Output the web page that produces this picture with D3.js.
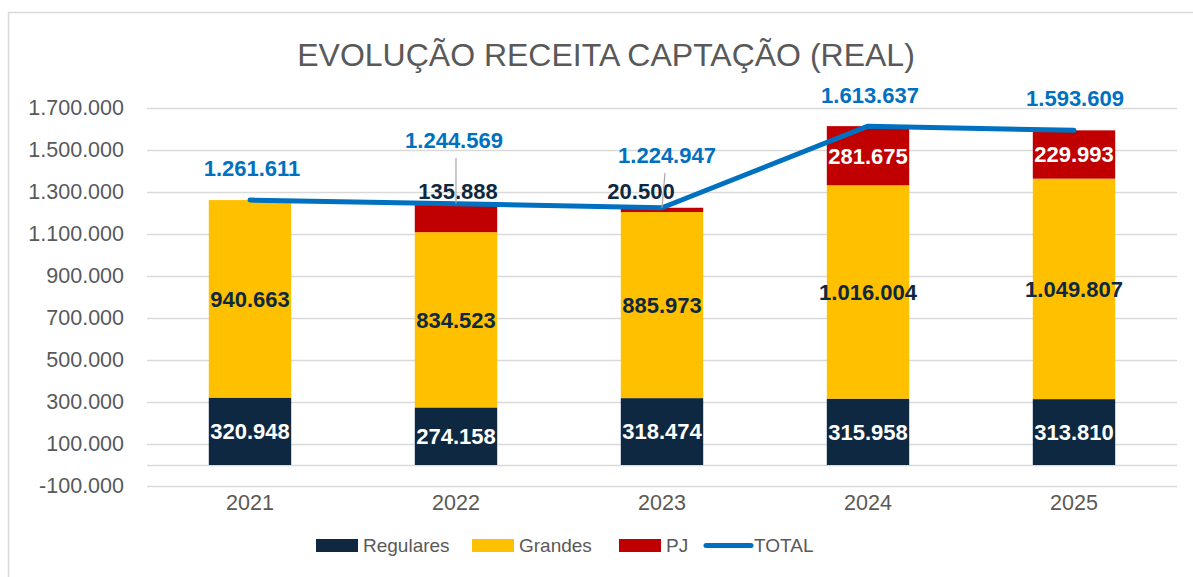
<!DOCTYPE html>
<html>
<head>
<meta charset="utf-8">
<script src="https://cdn.jsdelivr.net/npm/d3@7"></script>
<style>
  body { margin: 0; background: #fff; }
  svg { display: block; font-family: "Liberation Sans", Arial, sans-serif; }
</style>
</head>
<body>
<svg width="1193" height="577"></svg>
<script>
// Data
const years = ["2021", "2022", "2023", "2024", "2025"];
const regulares = [320948, 274158, 318474, 315958, 313810];
const grandes = [940663, 834523, 885973, 1016004, 1049807];
const pj = [0, 135888, 20500, 281675, 229993];
const total = [1261611, 1244569, 1224947, 1613637, 1593609];
const yTicks = [-100000, 100000, 300000, 500000, 700000, 900000, 1100000, 1300000, 1500000, 1700000];

const svg = d3.select("svg");

// number format like 1.234.567 (pt-BR style, plain hyphen for minus)
const locale = d3.formatLocale({ decimal: ",", thousands: ".", grouping: [3], currency: ["R$", ""], minus: "-" });
const fmt = locale.format(",");

const x = d3.scaleBand().domain(years).range([147, 1177]).paddingInner(0.6).paddingOuter(0.3);
const y = d3.scaleLinear().domain([-100000, 1700000]).range([486, 108]);
const cx = yr => x(yr) + x.bandwidth() / 2;

// chart border
svg.append("path")
  .attr("d", "M8.5,577 V12.5 H1193")
  .attr("fill", "none")
  .attr("stroke", "#d9d9d9")
  .attr("stroke-width", 1.5);

// title
svg.append("text")
  .attr("x", 606).attr("y", 66)
  .attr("text-anchor", "middle")
  .attr("font-size", 32)
  .attr("fill", "#595959")
  .text("EVOLUÇÃO RECEITA CAPTAÇÃO (REAL)");

// gridlines (plus zero line)
svg.append("g").selectAll("line")
  .data(yTicks.concat([0]))
  .join("line")
  .attr("x1", 147).attr("x2", 1177)
  .attr("y1", d => Math.round(y(d)) + 0.5).attr("y2", d => Math.round(y(d)) + 0.5)
  .attr("stroke", "#d9d9d9").attr("stroke-width", 1.5);

// y axis labels
const yAxis = svg.append("g")
  .attr("transform", "translate(140,0)")
  .call(d3.axisLeft(y).tickValues(yTicks).tickFormat(fmt).tickSize(0).tickPadding(16));
yAxis.select(".domain").remove();
yAxis.selectAll("text").attr("font-size", 21.5).attr("fill", "#595959").attr("font-family", "Liberation Sans, Arial, sans-serif");

// x axis labels
const xAxis = svg.append("g")
  .attr("transform", "translate(0,486)")
  .call(d3.axisBottom(x).tickSize(0).tickPadding(9));
xAxis.select(".domain").remove();
xAxis.selectAll("text").attr("font-size", 21.5).attr("fill", "#595959").attr("font-family", "Liberation Sans, Arial, sans-serif");

// stacked bars
const seriesList = [
  { name: "Regulares", color: "#0e2841" },
  { name: "Grandes", color: "#ffc000" },
  { name: "PJ", color: "#c00000" }
];
const rows = years.map((yr, i) => ({ year: yr, Regulares: regulares[i], Grandes: grandes[i], PJ: pj[i] }));
const stack = d3.stack().keys(seriesList.map(s => s.name))(rows);

const bars = svg.append("g");
stack.forEach((layer, k) => {
  bars.selectAll(null)
    .data(layer)
    .join("rect")
    .attr("x", d => x(d.data.year))
    .attr("width", x.bandwidth())
    .attr("y", d => y(d[1]))
    .attr("height", d => y(d[0]) - y(d[1]))
    .attr("fill", seriesList[k].color);
});

// total line
const line = d3.line()
  .x((d, i) => cx(years[i]))
  .y(d => y(d));
svg.append("path")
  .datum(total)
  .attr("d", line)
  .attr("fill", "none")
  .attr("stroke", "#0070c0")
  .attr("stroke-width", 5)
  .attr("stroke-linecap", "round")
  .attr("stroke-linejoin", "round");

const labels = svg.append("g").attr("font-weight", "bold").attr("font-size", 22).attr("text-anchor", "middle");

// Regulares labels (white, centered)
labels.selectAll(null)
  .data(stack[0])
  .join("text")
  .attr("x", d => cx(d.data.year))
  .attr("y", d => (y(d[0]) + y(d[1])) / 2)
  .attr("dy", "0.36em")
  .attr("fill", "#ffffff")
  .text(d => fmt(d[1] - d[0]));

// Grandes labels (dark, centered)
labels.selectAll(null)
  .data(stack[1])
  .join("text")
  .attr("x", d => cx(d.data.year))
  .attr("y", d => (y(d[0]) + y(d[1])) / 2)
  .attr("dy", "0.36em")
  .attr("fill", "#0e2841")
  .text(d => fmt(d[1] - d[0]));

// PJ labels: big segments inside in white, small ones moved above in dark
const pjOffsets = { "2022": { dx: 2, y: 191 }, "2023": { dx: -21, y: 191 } };
labels.selectAll(null)
  .data(stack[2].filter(d => d[1] - d[0] > 0))
  .join("text")
  .attr("x", d => cx(d.data.year) + (pjOffsets[d.data.year] ? pjOffsets[d.data.year].dx : 0))
  .attr("y", d => pjOffsets[d.data.year] ? pjOffsets[d.data.year].y : (y(d[0]) + y(d[1])) / 2)
  .attr("dy", "0.36em")
  .attr("fill", d => pjOffsets[d.data.year] ? "#0e2841" : "#ffffff")
  .text(d => fmt(d[1] - d[0]));

// Total labels (blue), two moved up with leader lines
const totalRows = years.map((yr, i) => ({ year: yr, value: total[i] }));
const totalOffsets = { "2021": { dx: 2, dy: -32 }, "2022": { dx: -2, dy: -64 }, "2023": { dx: 5, dy: -53 }, "2024": { dx: 2, dy: -31 }, "2025": { dx: 1, dy: -32 } };
const leaders = { "2022": { dx: 0, y1: 158 }, "2023": { dx: 3, y1: 173 } };
svg.append("g").selectAll("line")
  .data(totalRows.filter(d => leaders[d.year]))
  .join("line")
  .attr("x1", d => cx(d.year) + leaders[d.year].dx)
  .attr("y1", d => leaders[d.year].y1)
  .attr("x2", d => cx(d.year))
  .attr("y2", d => y(d.value))
  .attr("stroke", "#a6a6a6").attr("stroke-width", 1.2);

labels.selectAll(null)
  .data(totalRows)
  .join("text")
  .attr("x", d => cx(d.year) + totalOffsets[d.year].dx)
  .attr("y", d => y(d.value) + totalOffsets[d.year].dy)
  .attr("dy", "0.36em")
  .attr("fill", "#0070c0")
  .text(d => fmt(d.value));

// legend
const legendItems = [
  { name: "Regulares", color: "#0e2841", type: "rect", x: 316 },
  { name: "Grandes", color: "#ffc000", type: "rect", x: 472 },
  { name: "PJ", color: "#c00000", type: "rect", x: 619 },
  { name: "TOTAL", color: "#0070c0", type: "line", x: 706 }
];
const legend = svg.append("g");
legendItems.forEach(item => {
  if (item.type === "rect") {
    legend.append("rect")
      .attr("x", item.x).attr("y", 539)
      .attr("width", 42).attr("height", 13)
      .attr("fill", item.color);
  } else {
    legend.append("line")
      .attr("x1", item.x).attr("x2", item.x + 45)
      .attr("y1", 545.5).attr("y2", 545.5)
      .attr("stroke", item.color).attr("stroke-width", 5)
      .attr("stroke-linecap", "round");
  }
  legend.append("text")
    .attr("x", item.x + (item.type === "rect" ? 47 : 48))
    .attr("y", 552)
    .attr("font-size", 19)
    .attr("fill", "#595959")
    .text(item.name);
});
</script>
</body>
</html>
